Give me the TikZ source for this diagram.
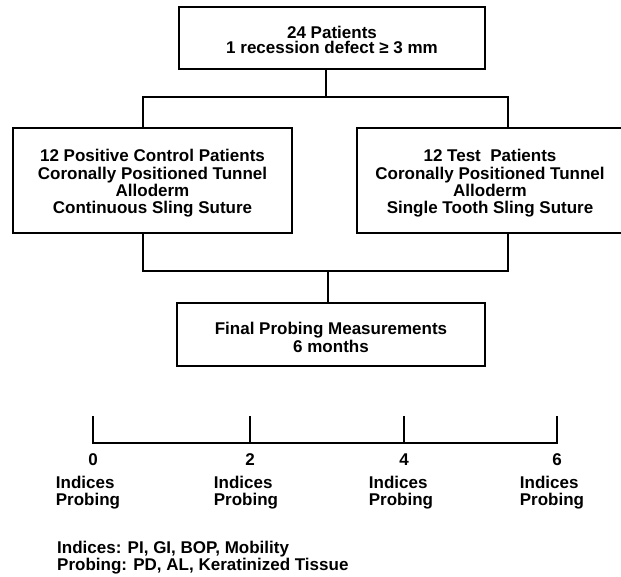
\documentclass[tikz,border=0pt]{standalone}
\usepackage{fontspec}
\setmainfont{Liberation Sans}
\begin{document}
\begin{tikzpicture}[x=1pt,y=-1pt,
  box/.style={draw,line width=1.8pt,inner sep=0pt,outer sep=0pt},
  boxtext/.style={inner sep=0pt,align=center,font=\bfseries\fontsize{17}{17.4}\selectfont},
  lbl/.style={inner sep=0pt,font=\bfseries\fontsize{17}{17}\selectfont},
  conn/.style={line width=1.8pt}]
\useasboundingbox (0,0) rectangle (621,577);
\node[box,minimum width=306pt,minimum height=62pt] (top) at (332,38) {};
\node[boxtext,font=\bfseries\fontsize{17}{15.7}\selectfont] (topt) at (332,40)
  {24 Patients\\1 recession defect ≥ 3 mm};
\node[box,minimum width=279pt,minimum height=105pt] (L) at (152.5,180.5) {};
\node[boxtext] (Lt) at (152.5,183.5)
  {12 Positive Control Patients\\Coronally Positioned Tunnel\\Alloderm\\Continuous Sling Suture};
\node[box,minimum width=266pt,minimum height=105pt] (R) at (490,180.5) {};
\node[boxtext] (Rt) at (490,183.5)
  {12 Test\ \ Patients\\Coronally Positioned Tunnel\\Alloderm\\Single Tooth Sling Suture};
\node[box,minimum width=308pt,minimum height=63pt] (F) at (331,334.5) {};
\node[boxtext] (Ft) at (331,337.5)
  {Final Probing Measurements\\6 months};
\coordinate (jt) at (326,97);
\coordinate (jl) at (143,97);
\coordinate (jr) at (508,97);
\coordinate (bl) at (143,271);
\coordinate (br) at (508,271);
\coordinate (bm) at (328,271);
\draw[conn] (top.south -| jt) -- (jt);
\draw[conn] (L.north -| jl) -- (jl) -- (jr) -- (R.north -| jr);
\draw[conn] (L.south -| bl) -- (bl) -- (br) -- (R.south -| br);
\draw[conn] (bm) -- (F.north -| bm);
% timeline
\coordinate (t0) at (93,443);  \coordinate (u0) at (93,416);
\coordinate (t2) at (250,443); \coordinate (u2) at (250,416);
\coordinate (t4) at (404,443); \coordinate (u4) at (404,416);
\coordinate (t6) at (557,443); \coordinate (u6) at (557,416);
\draw[conn] (u0) -- (t0) -- (t6) -- (u6);
\draw[conn] (u2) -- (t2);
\draw[conn] (u4) -- (t4);
\node[lbl] (n0) at (93,460) {0};
\node[lbl] (n2) at (250,460) {2};
\node[lbl] (n4) at (404,460) {4};
\node[lbl] (n6) at (557,460) {6};
\node[lbl,align=left] (l0) at (88,493) {Indices\\Probing};
\node[lbl,align=left] (l2) at (246,493) {Indices\\Probing};
\node[lbl,align=left] (l4) at (401,493) {Indices\\Probing};
\node[lbl,align=left] (l6) at (552,493) {Indices\\Probing};
\node[lbl,align=left,anchor=west,font=\bfseries\fontsize{17}{15.5}\selectfont] (leg) at (57,558)
  {Indices: PI, GI, BOP, Mobility\\Probing: PD, AL, Keratinized Tissue};
\end{tikzpicture}
\end{document}
